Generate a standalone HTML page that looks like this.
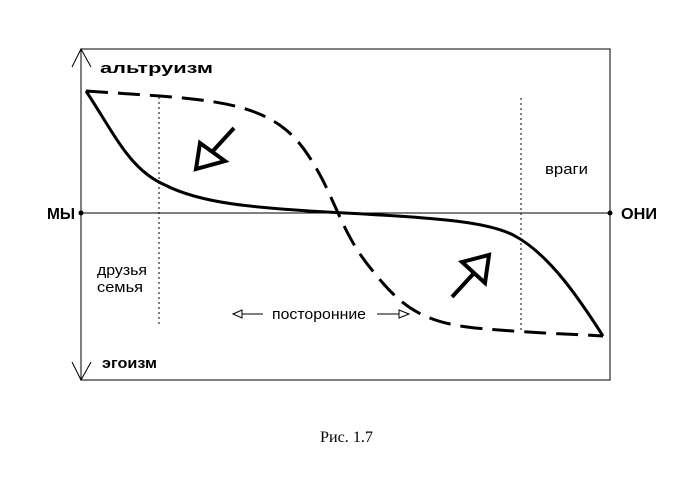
<!DOCTYPE html>
<html><head><meta charset="utf-8"><style>
body{margin:0;background:#fff}
svg{display:block}
text{font-family:"Liberation Sans",sans-serif;fill:#000}
</style></head><body>
<svg width="700" height="500" viewBox="0 0 700 500">
<rect x="81" y="49" width="529" height="331" fill="none" stroke="#000" stroke-width="1"/>
<polyline points="72,67 81,49 91,67" fill="none" stroke="#000"/>
<polyline points="72,362 81,380 91,362" fill="none" stroke="#000"/>
<line x1="81" y1="213" x2="610" y2="213" stroke="#000"/>
<circle cx="81" cy="213" r="2.5"/><circle cx="610" cy="213" r="2.5"/>
<line x1="159" y1="97" x2="159" y2="327" stroke="#000" stroke-dasharray="2,3"/>
<line x1="521" y1="98" x2="521" y2="333" stroke="#000" stroke-dasharray="2,3"/>
<path d="M86,91 C115,135 130,170 165,185 C200,203 250,208 345,213 C440,218 490,222 515,236 C550,255 580,300 603,336" fill="none" stroke="#000" stroke-width="3"/>
<path d="M86,91 L160,96 C240,102 280,112 308,155 C335,195 340,232 372,270 C400,305 420,322 475,328 C530,333 570,334 603,336" fill="none" stroke="#000" stroke-width="3" stroke-dasharray="22,10"/>
<line x1="234" y1="128" x2="212" y2="152" stroke="#000" stroke-width="4"/>
<polygon points="200,143 196,169 225,161" fill="#fff" stroke="#000" stroke-width="4"/>
<line x1="452" y1="297" x2="475" y2="272" stroke="#000" stroke-width="4"/>
<polygon points="462,262 489,255 485,283" fill="#fff" stroke="#000" stroke-width="4"/>
<text x="100" y="73" font-size="15" font-weight="bold" textLength="113" lengthAdjust="spacingAndGlyphs">альтруизм</text>
<text x="102" y="368" font-size="15" font-weight="bold" textLength="55" lengthAdjust="spacingAndGlyphs">эгоизм</text>
<text x="47" y="219" font-size="16" font-weight="bold" textLength="28" lengthAdjust="spacingAndGlyphs">МЫ</text>
<text x="621" y="219" font-size="16" font-weight="bold" textLength="36" lengthAdjust="spacingAndGlyphs">ОНИ</text>
<text x="545" y="174" font-size="15" textLength="43" lengthAdjust="spacingAndGlyphs">враги</text>
<text x="97" y="275" font-size="15" textLength="50" lengthAdjust="spacingAndGlyphs">друзья</text>
<text x="97" y="292" font-size="15" textLength="46" lengthAdjust="spacingAndGlyphs">семья</text>
<text x="272" y="319" font-size="15" textLength="94" lengthAdjust="spacingAndGlyphs">посторонние</text>
<line x1="242" y1="314" x2="263" y2="314" stroke="#000"/>
<polygon points="233,314 242,310 242,318" fill="#fff" stroke="#000"/>
<line x1="377" y1="314" x2="399" y2="314" stroke="#000"/>
<polygon points="409,314 399,310 399,318" fill="#fff" stroke="#000"/>
<text x="320" y="442" font-size="16" textLength="53" lengthAdjust="spacingAndGlyphs" style="font-family:'Liberation Serif',serif">Рис. 1.7</text>
</svg>
</body></html>
